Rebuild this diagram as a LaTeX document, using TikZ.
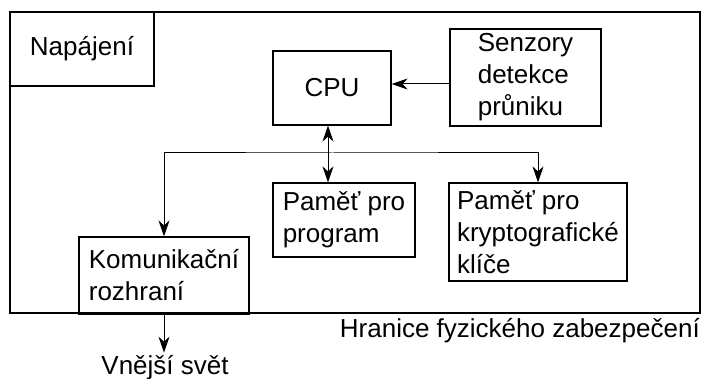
\documentclass[tikz,border=0pt]{standalone}
\usepackage{fontspec}
\setmainfont{Liberation Sans}
\usetikzlibrary{arrows.meta}
\begin{document}
\begin{tikzpicture}[x=1pt,y=-1pt,
  every node/.style={font=\fontsize{26pt}{32pt}\selectfont},
  box/.style={draw,line width=1.2pt,align=left,inner xsep=8pt,inner ysep=0pt},
  label/.style={inner sep=2pt},
  tip/.style={Stealth[length=16pt,width=11pt,inset=5pt]},
  conn/.style={line width=1pt,-{Stealth[length=16pt,width=11pt,inset=5pt]}},
  conn2/.style={line width=1pt,{Stealth[length=16pt,width=11pt,inset=5pt]}-{Stealth[length=16pt,width=11pt,inset=5pt]}}]
  \useasboundingbox (0,0) rectangle (708,379);

  % physical security perimeter
  \node[draw,line width=1.2pt,minimum width=690pt,minimum height=301pt,inner sep=0pt] (perimeter) at (355,162.5) {};

  % components
  \node[box,minimum width=144pt,minimum height=74pt] (napajeni) at (82,49) {Napájení};
  \node[box,minimum width=118pt,minimum height=74pt] (cpu) at (332,88) {CPU};
  \node[box,minimum width=151pt,minimum height=97pt] (senzory) at (525.5,77.5) {Senzory\\detekce\\průniku};
  \node[box,minimum width=142pt,minimum height=74pt] (pamprog) at (344,220) {Paměť pro\\program};
  \node[box,minimum width=178pt,minimum height=98pt] (pamkey) at (538,232) {Paměť pro\\kryptografické\\klíče};
  \node[box,minimum width=170pt,minimum height=77pt] (komun) at (164,275.5) {Komunikační\\rozhraní};

  % labels
  \node[label,anchor=base] (vnejsi) at (165,374) {Vnější svět};
  \node[label,anchor=base east] (hranice) at (702,337) {Hranice fyzického zabezpečení};

  % connectors
  \coordinate (sIn) at ([yshift=-6.5pt]senzory.west);
  \draw[conn] (sIn) -- (sIn -| cpu.east);

  \coordinate (cpuBus) at ([xshift=-4pt]cpu.south);
  \draw[conn2] (cpuBus) -- (cpuBus |- pamprog.north);

  \coordinate (bus) at (332,153);
  \draw[conn2] (komun.north) |- (bus) -| (pamkey.north);

  \draw[conn] (komun.south) -- (komun.south |- vnejsi.north);
\end{tikzpicture}
\end{document}
